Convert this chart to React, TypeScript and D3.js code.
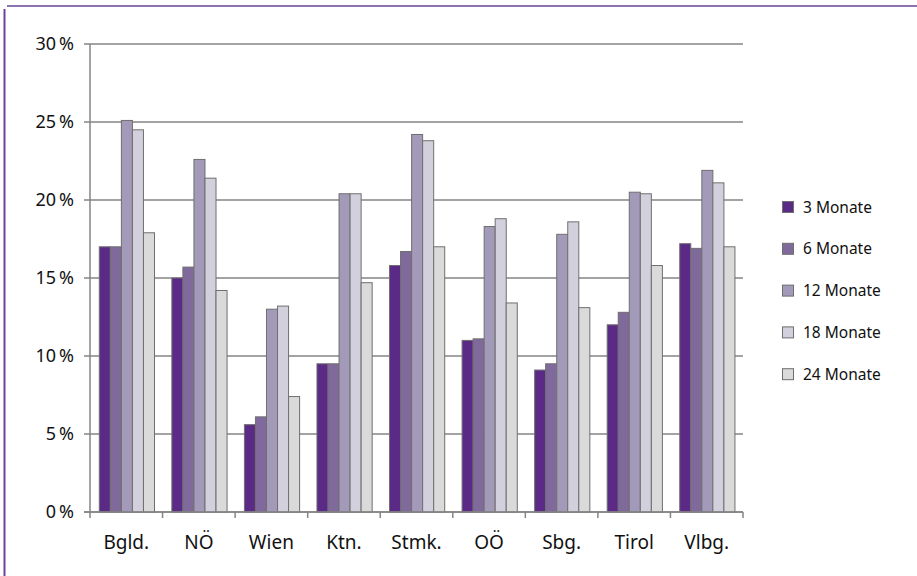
import React, { useEffect, useRef } from "react";
import { select, scaleBand, scaleLinear } from "d3";

const regions = ["Bgld.", "NÖ", "Wien", "Ktn.", "Stmk.", "OÖ", "Sbg.", "Tirol", "Vlbg."];
const seriesNames = ["3 Monate", "6 Monate", "12 Monate", "18 Monate", "24 Monate"];
const seriesColors = ["#5b2a86", "#806a9c", "#a399b8", "#d3d0dd", "#dadada"];

const m3 = [17.0, 15.0, 5.6, 9.5, 15.8, 11.0, 9.1, 12.0, 17.2];
const m6 = [17.0, 15.7, 6.1, 9.5, 16.7, 11.1, 9.5, 12.8, 16.9];
const m12 = [25.1, 22.6, 13.0, 20.4, 24.2, 18.3, 17.8, 20.5, 21.9];
const m18 = [24.5, 21.4, 13.2, 20.4, 23.8, 18.8, 18.6, 20.4, 21.1];
const m24 = [17.9, 14.2, 7.4, 14.7, 17.0, 13.4, 13.1, 15.8, 17.0];
const seriesValues = [m3, m6, m12, m18, m24];

const yTicks = [0, 5, 10, 15, 20, 25, 30];

const W = 917;
const H = 576;

const App = () => {
  const svgRef = useRef(null);

  useEffect(() => {
    const svg = select(svgRef.current);
    svg.selectAll("*").remove();

    const font = "'Noto Sans', 'Open Sans', sans-serif";

    // frame
    svg.append("line")
      .attr("x1", 7).attr("x2", W).attr("y1", 6).attr("y2", 6)
      .attr("stroke", "#8f73b0").attr("stroke-width", 2);
    svg.append("line")
      .attr("x1", 4.5).attr("x2", 4.5).attr("y1", 9).attr("y2", H)
      .attr("stroke", "#6b42a0").attr("stroke-width", 2);

    const x0 = scaleBand().domain(regions).range([90, 743]).padding(0);
    const x1 = scaleBand().domain(seriesNames).range([9.3, 64.5]).padding(0);
    const y = scaleLinear().domain([0, 30]).range([512, 44]);

    const g = svg.append("g");

    // gridlines
    g.selectAll("line.grid")
      .data(yTicks)
      .enter()
      .append("line")
      .attr("class", "grid")
      .attr("x1", 84)
      .attr("x2", 743)
      .attr("y1", (d) => y(d))
      .attr("y2", (d) => y(d))
      .attr("stroke", "#858585")
      .attr("stroke-width", 1.5);

    g.selectAll("text.ylab")
      .data(yTicks)
      .enter()
      .append("text")
      .attr("class", "ylab")
      .attr("x", 74)
      .attr("y", (d) => y(d))
      .attr("dy", "0.36em")
      .attr("text-anchor", "end")
      .attr("font-family", font)
      .attr("font-size", 18)
      .attr("fill", "#111")
      .text((d) => `${d}\u2009%`);

    // bars
    const groups = g.selectAll("g.region")
      .data(regions)
      .enter()
      .append("g")
      .attr("transform", (d) => `translate(${x0(d)},0)`);

    groups.selectAll("rect")
      .data((_, i) => seriesNames.map((s, j) => ({ s, v: seriesValues[j][i], c: seriesColors[j] })))
      .enter()
      .append("rect")
      .attr("x", (d) => x1(d.s))
      .attr("width", x1.bandwidth())
      .attr("y", (d) => y(d.v))
      .attr("height", (d) => y(0) - y(d.v))
      .attr("fill", (d) => d.c)
      .attr("stroke", "#6f6f6f")
      .attr("stroke-width", 1);

    // axes
    g.append("line")
      .attr("x1", 90).attr("x2", 90).attr("y1", 44).attr("y2", 512)
      .attr("stroke", "#858585").attr("stroke-width", 1.5);
    g.append("line")
      .attr("x1", 84).attr("x2", 743).attr("y1", 512).attr("y2", 512)
      .attr("stroke", "#858585").attr("stroke-width", 1.5);

    const boundaries = regions.map((r) => x0(r)).concat([743]);
    g.selectAll("line.xtick")
      .data(boundaries)
      .enter()
      .append("line")
      .attr("class", "xtick")
      .attr("x1", (d) => d)
      .attr("x2", (d) => d)
      .attr("y1", 512)
      .attr("y2", 518)
      .attr("stroke", "#858585")
      .attr("stroke-width", 1.5);

    g.selectAll("text.xlab")
      .data(regions)
      .enter()
      .append("text")
      .attr("class", "xlab")
      .attr("x", (d) => x0(d) + x0.bandwidth() / 2)
      .attr("y", 549)
      .attr("text-anchor", "middle")
      .attr("font-family", font)
      .attr("font-size", 19)
      .attr("fill", "#111")
      .text((d) => d);

    // legend
    const legend = svg.selectAll("g.legend")
      .data(seriesNames)
      .enter()
      .append("g")
      .attr("class", "legend")
      .attr("transform", (_, i) => `translate(782,${207 + i * 41.8})`);

    legend.append("rect")
      .attr("x", 0.5)
      .attr("y", -5.5)
      .attr("width", 11)
      .attr("height", 11)
      .attr("fill", (_, i) => seriesColors[i])
      .attr("stroke", "#6f6f6f");

    legend.append("text")
      .attr("x", 21)
      .attr("dy", "0.36em")
      .attr("font-family", font)
      .attr("font-size", 15.5)
      .attr("fill", "#111")
      .text((d) => d);
  }, []);

  return (
    <div style={{ position: "absolute", left: 0, top: 0 }}>
      <svg ref={svgRef} width={W} height={H} style={{ display: "block" }}></svg>
    </div>
  );
};

export default App;
